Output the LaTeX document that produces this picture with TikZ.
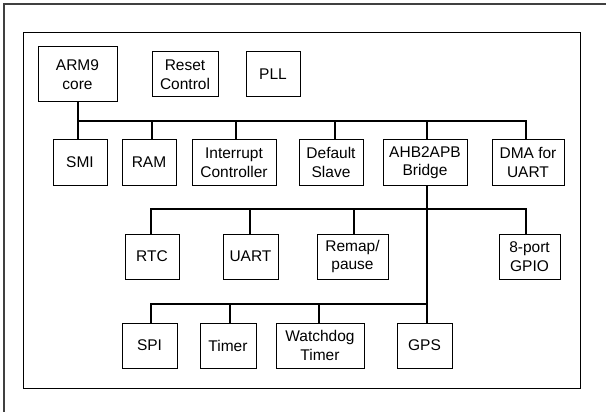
\documentclass[tikz,border=0pt]{standalone}
\usepackage{fontspec}
\setmainfont{Liberation Sans}
\begin{document}
\begin{tikzpicture}[x=1pt,y=-1pt,
  box/.style={draw=black,line width=1pt,minimum height=45pt,inner sep=0pt,align=center,
    font=\fontsize{15.5}{18.5}\selectfont},
  bus/.style={line width=2.6pt,line cap=rect},
  stem/.style={line width=2.6pt},
  frame/.style={line width=1pt}]
\useasboundingbox (0,0) rectangle (606,412);
% outer frame (only top and left visible)
\coordinate (oTR) at (606,4);
\coordinate (oTL) at (4,4);
\coordinate (oBL) at (4,412);
\draw[line width=1.8pt,black!75] (oBL) -- (oTL) -- (oTR);
% inner frame
\draw[frame] (23,33) rectangle (580,388);
% top row
\node[box,minimum width=79pt,minimum height=55pt] (arm) at (77.5,74.5) {ARM9\\core};
\node[box,minimum width=66pt] (reset) at (185,74.5) {Reset\\Control};
\node[box,minimum width=54pt] (pll) at (273,74.5) {PLL};
% row 2
\node[box,minimum width=54pt] (smi) at (80,162.5) {SMI};
\node[box,minimum width=54pt] (ram) at (149,162.5) {RAM};
\node[box,minimum width=84pt] (irq) at (234,162.5) {Interrupt\\Controller};
\node[box,minimum width=64pt] (dslave) at (331,162.5) {Default\\Slave};
\node[box,minimum width=84pt] (bridge) at (425,162.5) {AHB2APB\\Bridge};
\node[box,minimum width=72pt] (dma) at (528,162.5) {DMA for\\UART};
% row 3
\node[box,minimum width=54pt] (rtc) at (152,256.5) {RTC};
\node[box,minimum width=55pt] (uart) at (250.5,256.5) {UART};
\node[box,minimum width=71pt] (remap) at (352.5,256.5) {Remap/\\pause};
\node[box,minimum width=61pt] (gpio) at (529.5,256.5) {8-port\\GPIO};
% row 4
\node[box,minimum width=55pt] (spi) at (149.5,345.5) {SPI};
\node[box,minimum width=56pt] (timer) at (228,345.5) {Timer};
\node[box,minimum width=88pt] (wdt) at (320,345.5) {Watchdog\\Timer};
\node[box,minimum width=55pt] (gps) at (424.5,345.5) {GPS};
% bus junction coordinates
\coordinate (a1) at (78,121);   \coordinate (a2) at (152,121);
\coordinate (a3) at (236,121);  \coordinate (a4) at (335,121);
\coordinate (a5) at (427,121);  \coordinate (a6) at (526,121);
\coordinate (b1) at (151,209);  \coordinate (b2) at (250,209);
\coordinate (b3) at (354,209);  \coordinate (b4) at (427,209);
\coordinate (b5) at (526,209);
\coordinate (c1) at (151,304);  \coordinate (c2) at (230,304);
\coordinate (c3) at (319,304);  \coordinate (c4) at (427,304);
% AHB bus
\draw[bus] (a1) -- (a6);
\draw[stem] (arm.south -| a1) -- (smi.north -| a1);
\draw[stem] (a2) -- (ram.north -| a2);
\draw[stem] (a3) -- (irq.north -| a3);
\draw[stem] (a4) -- (dslave.north -| a4);
\draw[stem] (a5) -- (bridge.north -| a5);
\draw[stem] (a6) -- (dma.north -| a6);
% bridge down to GPS
\draw[stem] (bridge.south -| a5) -- (gps.north -| a5);
% APB bus 2
\draw[bus] (b1) -- (b5);
\draw[stem] (b1) -- (rtc.north -| b1);
\draw[stem] (b2) -- (uart.north -| b2);
\draw[stem] (b3) -- (remap.north -| b3);
\draw[stem] (b5) -- (gpio.north -| b5);
% APB bus 3
\draw[bus] (c1) -- (c4);
\draw[stem] (c1) -- (spi.north -| c1);
\draw[stem] (c2) -- (timer.north -| c2);
\draw[stem] (c3) -- (wdt.north -| c3);
\end{tikzpicture}
\end{document}
